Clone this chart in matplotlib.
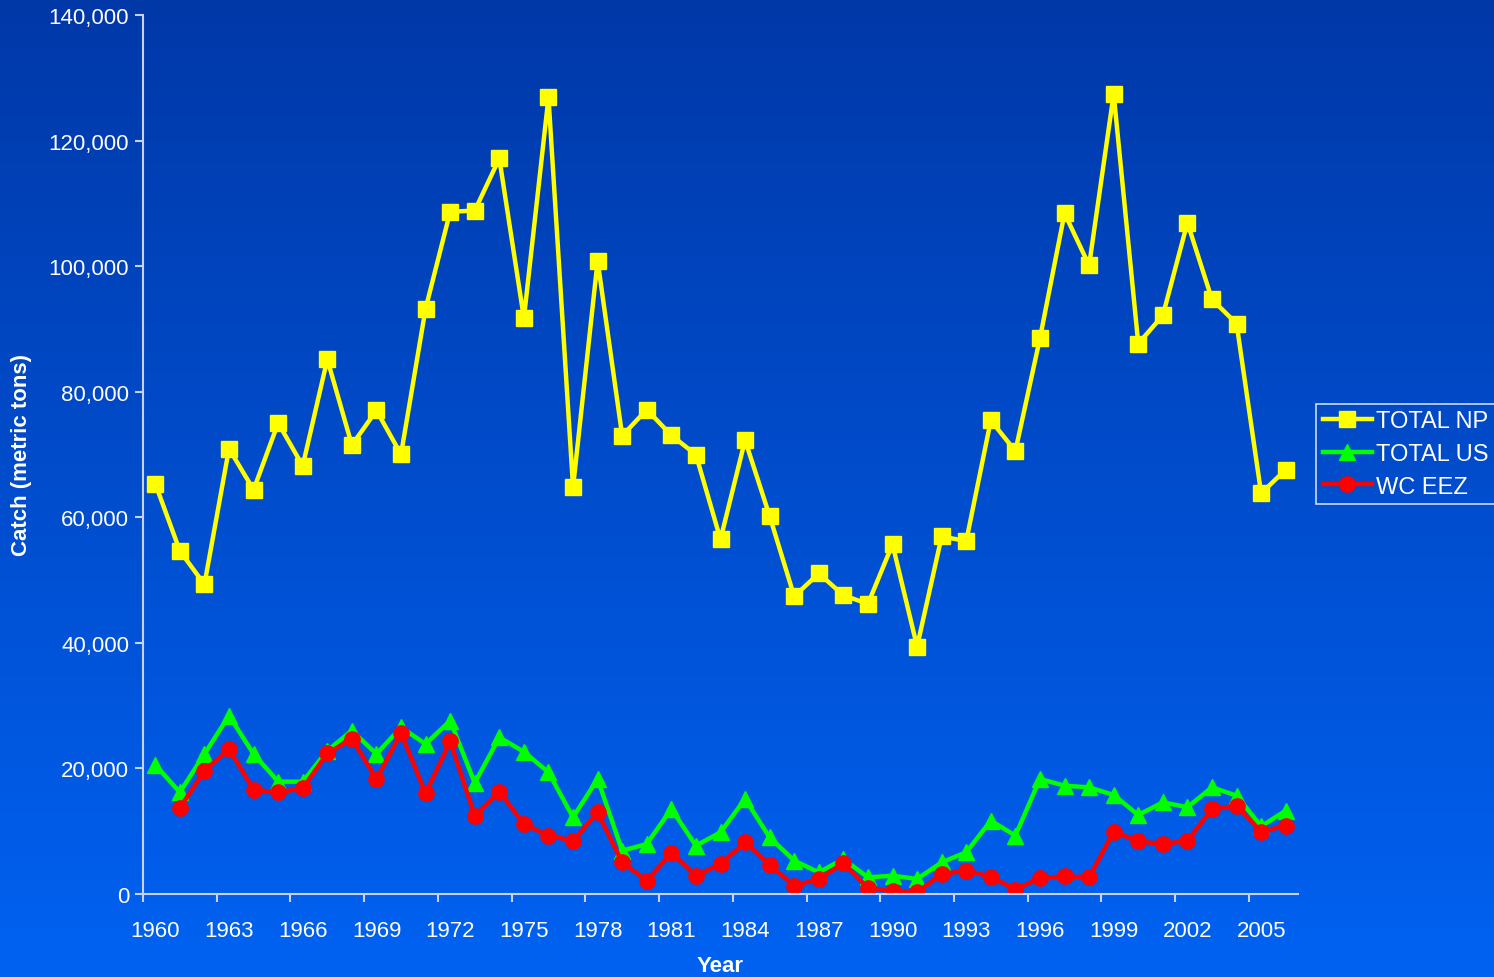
import numpy as np
import matplotlib
matplotlib.use('Agg')
import matplotlib.pyplot as plt
from matplotlib.ticker import FuncFormatter

plt.rcParams['font.family'] = ['Liberation Sans', 'DejaVu Sans']

# catch data, metric tons
years = list(range(1960, 2007))
total_np = [65350, 54650, 49300, 70930, 64380, 75030, 68190, 85160, 71500, 77020,
            70020, 93240, 108670, 108840, 117150, 91710, 126870, 64790, 100850, 72990,
            77150, 73060, 69970, 56480, 72290, 60190, 47400, 51060, 47590, 46200,
            55710, 39390, 56940, 56210, 75430, 70540, 88510, 108420, 100120, 127420,
            87660, 92150, 106930, 94700, 90850, 63820, 67580]
total_us = [20550, 16200, 22300, 28400, 22300, 17900, 17890, 22830, 26010, 22300,
            26540, 23890, 27610, 17680, 24950, 22650, 19380, 12210, 18320, 6900,
            7960, 13540, 7700, 9820, 15130, 9020, 5310, 3450, 5570, 2650,
            2920, 2390, 5040, 6640, 11680, 9290, 18320, 17250, 16990, 15770,
            12580, 14600, 13810, 16990, 15660, 10780, 13270]
wc_years = years[1:]
wc_eez = [13700, 19640, 23090, 16610, 16200, 16830, 22400, 24690, 18320,
          25640, 16030, 24320, 12470, 16300, 11150, 9290, 8490, 13010, 5040,
          2120, 6530, 2920, 4780, 8230, 4620, 1320, 2390, 4880, 960,
          430, 250, 3190, 3710, 2760, 690, 2550, 2810, 2650, 9930,
          8390, 7960, 8490, 13540, 14070, 9930, 10880]

label_years = list(range(1960, 2006, 3))

W, H = 1494, 978
fig = plt.figure(figsize=(W / 100, H / 100), dpi=100)

# blue gradient background
bg = fig.add_axes([0, 0, 1, 1])
grad = np.linspace(0, 1, 256).reshape(-1, 1)
top = np.array([0x00, 0x38, 0xA8]) / 255.
bot = np.array([0x00, 0x62, 0xF2]) / 255.
img = top[None, None, :] * (1 - grad[:, :, None]) + bot[None, None, :] * grad[:, :, None]
bg.imshow(img, aspect='auto', extent=[0, 1, 0, 1])
bg.set_axis_off()

ax = fig.add_axes([143 / W, (H - 895) / H, (1298 - 143) / W, (895 - 16) / H])
ax.patch.set_alpha(0)

ax.plot(years, total_np, color='#FFFF00', lw=3.2, marker='s', ms=12, label='TOTAL NP')
ax.plot(years, total_us, color='#00FF00', lw=3.2, marker='^', ms=12, label='TOTAL US')
ax.plot(wc_years, wc_eez, color='#FF0000', lw=3.2, marker='o', ms=11, label='WC EEZ')

ax.set_xlim(1959.5, 2006.5)
ax.set_ylim(0, 140000)
ax.set_yticks(np.arange(0, 140001, 20000))
ax.yaxis.set_major_formatter(FuncFormatter(lambda v, p: f'{int(v):,}'))

ax.set_xticks(label_years)
ax.set_xticks(np.arange(1959.5, 2006, 3), minor=True)

axis_col = '#C8D2EE'
for s in ['top', 'right']:
    ax.spines[s].set_visible(False)
for s in ['left', 'bottom']:
    ax.spines[s].set_color(axis_col)
    ax.spines[s].set_linewidth(1.5)

ax.tick_params(axis='y', colors=axis_col, labelcolor='white', labelsize=16,
               length=6, width=1.5, pad=4)
ax.tick_params(axis='x', which='major', length=0, labelcolor='white', labelsize=16, pad=19)
ax.tick_params(axis='x', which='minor', colors=axis_col, length=6, width=1.5)

ax.set_xlabel('Year', color='white', fontsize=16, fontweight='bold', labelpad=10)
ax.set_ylabel('Catch (metric tons)', color='white', fontsize=16, fontweight='bold', labelpad=12)

leg = ax.legend(loc='center left', bbox_to_anchor=(1316 / W, (H - 455) / H),
                bbox_transform=fig.transFigure, frameon=True, fancybox=False,
                fontsize=17, labelcolor='white', handlelength=2.1, handletextpad=0.15,
                borderpad=0.28, labelspacing=0.45, borderaxespad=0)
leg.get_frame().set_facecolor('none')
leg.get_frame().set_edgecolor('white')
leg.get_frame().set_linewidth(1.2)

fig.savefig('out.png', dpi=100)
